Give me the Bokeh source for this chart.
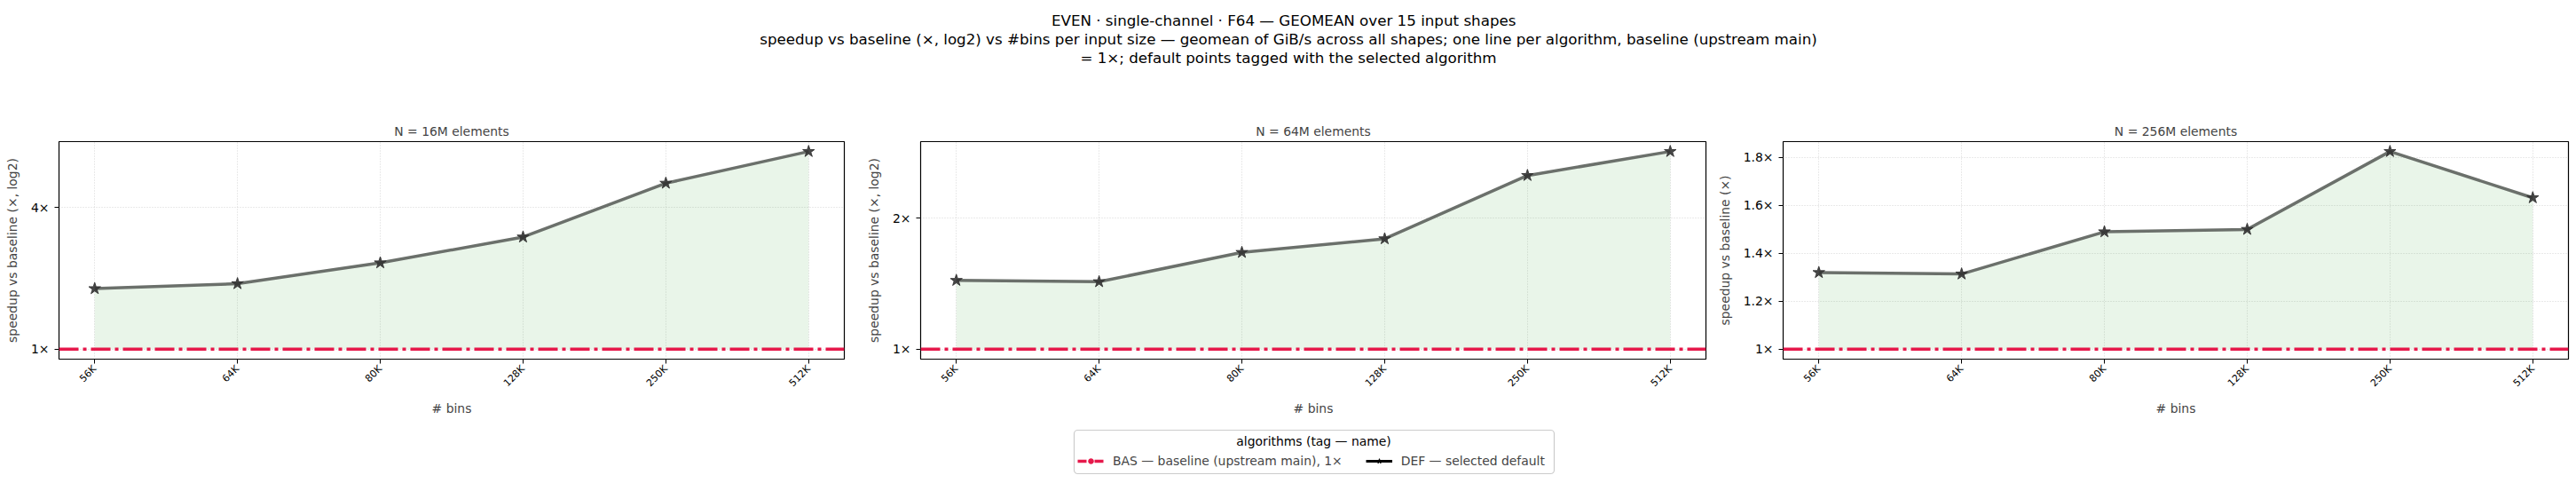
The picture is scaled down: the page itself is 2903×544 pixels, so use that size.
import math
from bokeh.plotting import figure
from bokeh.layouts import column, row
from bokeh.models import (Range1d, FixedTicker, CustomJSTickFormatter, Span, Legend,
                          LegendItem, ColumnDataSource, BoxAnnotation)
from bokeh.embed import file_html
from bokeh.resources import INLINE
from bokeh.core.properties import value

# ---------------- data ----------------
bins_labels = ["56K", "64K", "80K", "128K", "250K", "512K"]
panel_titles = ["N = 16M elements", "N = 64M elements", "N = 256M elements"]
speedup_16M = [1.81, 1.90, 2.33, 3.00, 5.08, 6.93]
speedup_64M = [1.44, 1.43, 1.67, 1.795, 2.51, 2.85]
speedup_256M = [1.32, 1.314, 1.49, 1.50, 1.825, 1.632]
y_scales = ["log", "log", "linear"]
y_ticks = [[1, 4], [1, 2], [1, 1.2, 1.4, 1.6, 1.8]]
y_labels = ["speedup vs baseline (×, log2)", "speedup vs baseline (×, log2)",
            "speedup vs baseline (×)"]
BASELINE = 1.0
title_lines = [
    "EVEN · single-channel · F64  —  GEOMEAN over 15 input shapes",
    "speedup vs baseline (×, log2) vs #bins per input size — geomean of GiB/s across all shapes; one line per algorithm, baseline (upstream main)",
    "= 1×; default points tagged with the selected algorithm",
]
legend_title = "algorithms (tag — name)"
legend_labels = ["BAS — baseline (upstream main), 1×", "DEF — selected default"]

# ---------------- style ----------------
FONT = "DejaVu Sans"
BAS_COLOR = "#e6194b"
LINE_COLOR = "#6b706b"
STAR_COLOR = "#333333"
FILL_COLOR = "#2ca02c"
GRID_COLOR = "#d4d4d4"
TOTAL_W = 2903

series = [speedup_16M, speedup_64M, speedup_256M]
borders_left = [66, 76, 76]
borders_right = [10, 10, 10]


def make_yrange(vals, scale):
    lo = min(min(vals), BASELINE)
    hi = max(vals)
    if scale == "log":
        a, b = math.log2(lo), math.log2(hi)
        m = (b - a) * 0.05
        return Range1d(2 ** (a - m), 2 ** (b + m))
    m = (hi - lo) * 0.05
    return Range1d(lo - m, hi + m)


# ---------------- title ----------------
tf = figure(width=TOTAL_W, height=120, x_range=Range1d(0, 1), y_range=Range1d(120, 0),
            min_border=0, output_backend="svg", toolbar_location=None,
            x_axis_type=None, y_axis_type=None)
tf.outline_line_color = None
tsrc = ColumnDataSource(dict(x=[0.5] * len(title_lines), y=[22, 43, 64], t=title_lines))
tf.text(x="x", y="y", text="t", source=tsrc, text_align="center", text_baseline="middle",
        text_font=value(FONT), text_font_size="16.7px", text_color="black")

# ---------------- panels ----------------
panels = []
for i, vals in enumerate(series):
    idx = list(range(len(bins_labels)))
    p = figure(frame_width=885, frame_height=245,
               min_border_left=borders_left[i], min_border_right=borders_right[i],
               min_border_top=39, min_border_bottom=66,
               x_range=Range1d(-0.25, len(idx) - 1 + 0.25),
               y_range=make_yrange(vals, y_scales[i]),
               y_axis_type=y_scales[i],
               output_backend="svg", toolbar_location=None, title=panel_titles[i])
    p.title.align = "center"
    p.title.text_font = FONT
    p.title.text_font_size = "13.9px"
    p.title.text_font_style = "normal"
    p.title.standoff = 8
    p.outline_line_color = "black"
    p.outline_line_width = 1.2
    p.background_fill_color = "white"

    src = ColumnDataSource(dict(x=idx, y=vals, base=[BASELINE] * len(idx)))
    p.varea(x="x", y1="base", y2="y", source=src, fill_color=FILL_COLOR, fill_alpha=0.1)
    p.add_layout(Span(location=BASELINE, dimension="width", line_color=BAS_COLOR,
                      line_width=3.5, line_dash="22 5 4 5"))
    p.line(x="x", y="y", source=src, line_color=LINE_COLOR, line_width=3.5)
    p.scatter(x="x", y="y", source=src, marker="star", size=14,
              fill_color=STAR_COLOR, line_color=STAR_COLOR, alpha=0.9)

    # x axis
    xa = p.xaxis[0]
    xa.ticker = FixedTicker(ticks=idx)
    xa.major_label_overrides = {k: lab for k, lab in zip(idx, bins_labels)}
    xa.major_label_orientation = math.pi / 4
    xa.major_label_text_font = FONT
    xa.major_label_text_font_size = "11px"
    xa.axis_label = "# bins"
    xa.major_label_standoff = 4
    xa.axis_label_standoff = 6
    # y axis
    ya = p.yaxis[0]
    ya.ticker = FixedTicker(ticks=y_ticks[i], minor_ticks=[])
    ya.formatter = CustomJSTickFormatter(code="return tick + '×';")
    ya.major_label_text_font = FONT
    ya.major_label_text_font_size = "13.9px"
    ya.axis_label = y_labels[i]
    ya.major_label_standoff = 6
    ya.axis_label_standoff = 10
    for ax in (xa, ya):
        ax.axis_line_color = None
        ax.major_tick_line_color = "black"
        ax.major_tick_out = 5
        ax.major_tick_in = 0
        ax.minor_tick_line_color = None
        ax.axis_label_text_font = FONT
        ax.axis_label_text_font_size = "13.9px"
        ax.axis_label_text_font_style = "normal"
        ax.major_label_text_color = "black"
    for g in (p.xgrid[0], p.ygrid[0]):
        g.grid_line_color = GRID_COLOR
        g.grid_line_dash = "1 2"
        g.grid_line_width = 1
    panels.append(p)

# ---------------- legend ----------------
LEG_H = 74
lf = figure(width=TOTAL_W, height=LEG_H, x_range=Range1d(0, TOTAL_W),
            y_range=Range1d(LEG_H, 0),
            min_border=0, output_backend="svg", toolbar_location=None,
            x_axis_type=None, y_axis_type=None)
lf.outline_line_color = None
# legend frame (rounded, light grey)
lf.add_layout(BoxAnnotation(left=1210, right=1751, top=14, bottom=63,
                            fill_color=None, line_color="#cccccc", line_width=1.2,
                            line_alpha=1, border_radius=4))
nan = float("nan")
r1 = lf.line(x=[nan], y=[nan], line_color=BAS_COLOR, line_width=3.5, line_dash="10 3 3 3")
r1m = lf.scatter(x=[nan], y=[nan], marker="circle", size=9,
                 fill_color=BAS_COLOR, line_color=BAS_COLOR)
r2 = lf.line(x=[nan], y=[nan], line_color="black", line_width=3)
r2m = lf.scatter(x=[nan], y=[nan], marker="star", size=12,
                 fill_color="black", line_color="black")
legend = Legend(items=[LegendItem(label=legend_labels[0], renderers=[r1, r1m]),
                       LegendItem(label=legend_labels[1], renderers=[r2, r2m])],
                orientation="horizontal", location=(1214, 15))
legend.label_text_font = FONT
legend.label_text_font_size = "13.9px"
legend.border_line_color = None
legend.background_fill_alpha = 0
legend.padding = 0
legend.margin = 0
legend.spacing = 26
legend.glyph_width = 30
legend.glyph_height = 14
legend.label_height = 20
legend.label_standoff = 10
lf.add_layout(legend)
# centred legend title
lsrc = ColumnDataSource(dict(x=[1480], y=[26], t=[legend_title]))
lf.text(x="x", y="y", text="t", source=lsrc, text_align="center", text_baseline="middle",
        text_font=value(FONT), text_font_size="13.9px", text_color="black")

layout = column(tf, row(*panels), lf)
open("out.html", "w").write(file_html(layout, INLINE))
